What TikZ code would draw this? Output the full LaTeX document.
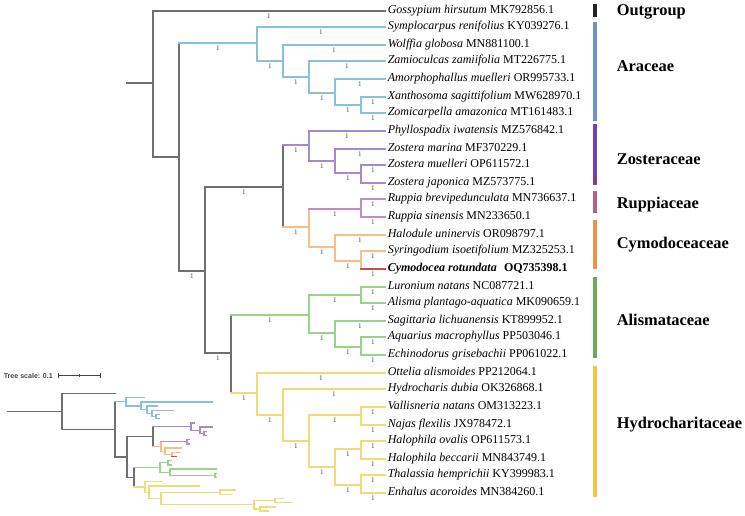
\documentclass[tikz,border=0pt]{standalone}
\usepackage{fontspec}
\setmainfont{Liberation Serif}
\newfontfamily\scalefnt{Liberation Sans}
\usetikzlibrary{calc}
\definecolor{gbk}{HTML}{707070}
\definecolor{cara}{HTML}{8CBFD9}
\definecolor{czos}{HTML}{A68BC8}
\definecolor{crup}{HTML}{C48BBE}
\definecolor{ccym}{HTML}{F2C088}
\definecolor{cred}{HTML}{C9504A}
\definecolor{cali}{HTML}{9CD08D}
\definecolor{chyd}{HTML}{F1DB78}
\definecolor{bout}{HTML}{222222}
\definecolor{bara}{HTML}{7094C6}
\definecolor{bzos}{HTML}{7B40A6}
\definecolor{brup}{HTML}{B3628E}
\definecolor{bcym}{HTML}{E8934F}
\definecolor{bali}{HTML}{6DAA55}
\definecolor{bhyd}{HTML}{F1C744}
\definecolor{suppc}{HTML}{444444}
\newcommand{\tbrl}[3]{\draw[#3] (#1 |- #2) -- node[supp]{1} (#2);}
\newcommand{\tbrn}[3]{\draw[#3] (#1 |- #2) -- (#2);}
\newcommand{\tvert}[4]{\draw[#4] (#1 |- #2) -- (#1 |- #3);}
\begin{document}
\begin{tikzpicture}[x=0.75pt,y=-0.75pt,line cap=rect,
  every path/.style={line width=1.2pt},
  supp/.style={midway,font=\fontsize{5.3}{6}\selectfont,text=suppc,inner sep=0pt,yshift=-3.8pt},
  leaf/.style={anchor=west,inner sep=1.5pt,font=\fontsize{9}{10}\selectfont,text height=6.2pt,text depth=2pt},
  fam/.style={anchor=west,inner sep=0pt,font=\bfseries\fontsize{12.3}{14}\selectfont,text height=8.1pt,text depth=0pt}]
\useasboundingbox (0,0) rectangle (745,516);
% ---------------- main tree nodes
\coordinate (rs) at (127,83);
\coordinate (root) at (153,83);
\coordinate (N1) at (179,157);
\coordinate (A) at (257,43);
\coordinate (B) at (283,61);
\coordinate (C) at (309,77);
\coordinate (D) at (335,93);
\coordinate (E) at (361,105);
\coordinate (N2) at (205,271);
\coordinate (N3) at (283,187);
\coordinate (Z) at (309,145);
\coordinate (Z2) at (335,161);
\coordinate (Z3) at (361,173);
\coordinate (R) at (309,227);
\coordinate (Rp) at (361,209);
\coordinate (Cy) at (335,247);
\coordinate (Cy2) at (361,261);
\coordinate (N4) at (231,353);
\coordinate (Al) at (309,315);
\coordinate (Al1) at (361,295);
\coordinate (Al2) at (335,333);
\coordinate (Al3) at (361,347);
\coordinate (H) at (257,393);
\coordinate (H2) at (283,415);
\coordinate (H3) at (309,441);
\coordinate (H4) at (361,415);
\coordinate (H5) at (335,467);
\coordinate (H6) at (361,449);
\coordinate (H7) at (361,485);
% ---------------- leaves
\foreach \i/\txt in {
 0/{\textit{Gossypium hirsutum} MK792856.1},
 1/{\textit{Symplocarpus renifolius} KY039276.1},
 2/{\textit{Wolffia globosa} MN881100.1},
 3/{\textit{Zamioculcas zamiifolia} MT226775.1},
 4/{\textit{Amorphophallus muelleri} OR995733.1},
 5/{\textit{Xanthosoma sagittifolium} MW628970.1},
 6/{\textit{Zomicarpella amazonica} MT161483.1},
 7/{\textit{Phyllospadix iwatensis} MZ576842.1},
 8/{\textit{Zostera marina} MF370229.1},
 9/{\textit{Zostera muelleri} OP611572.1},
 10/{\textit{Zostera japonica} MZ573775.1},
 11/{\textit{Ruppia brevipedunculata} MN736637.1},
 12/{\textit{Ruppia sinensis} MN233650.1},
 13/{\textit{Halodule uninervis} OR098797.1},
 14/{\textit{Syringodium isoetifolium} MZ325253.1},
 15/{\textbf{\textit{Cymodocea rotundata}}\hspace{0.6em}\textbf{OQ735398.1}},
 16/{\textit{Luronium natans} NC087721.1},
 17/{\textit{Alisma plantago-aquatica} MK090659.1},
 18/{\textit{Sagittaria lichuanensis} KT899952.1},
 19/{\textit{Aquarius macrophyllus} PP503046.1},
 20/{\textit{Echinodorus grisebachii} PP061022.1},
 21/{\textit{Ottelia alismoides} PP212064.1},
 22/{\textit{Hydrocharis dubia} OK326868.1},
 23/{\textit{Vallisneria natans} OM313223.1},
 24/{\textit{Najas flexilis} JX978472.1},
 25/{\textit{Halophila ovalis} OP611573.1},
 26/{\textit{Halophila beccarii} MN843749.1},
 27/{\textit{Thalassia hemprichii} KY399983.1},
 28/{\textit{Enhalus acoroides} MN384260.1}} {
  \pgfmathsetmacro\yy{2*floor((10+17.25*\i)/2)+1}
  \coordinate (t\i) at (385,\yy);
  \node[leaf] (l\i) at (t\i) {\txt};
}
% ---------------- main tree branches
\tbrn{rs}{root}{gbk}
\tvert{root}{t0}{N1}{gbk}
\tbrl{root}{t0}{gbk}
\tbrn{root}{N1}{gbk}
\tvert{N1}{A}{N2}{gbk}
\tbrl{N1}{A}{cara}
\tbrl{N1}{N2}{gbk}
\tvert{A}{t1}{B}{cara} \tbrl{A}{t1}{cara} \tbrl{A}{B}{cara}
\tvert{B}{t2}{C}{cara} \tbrl{B}{t2}{cara} \tbrl{B}{C}{cara}
\tvert{C}{t3}{D}{cara} \tbrl{C}{t3}{cara} \tbrl{C}{D}{cara}
\tvert{D}{t4}{E}{cara} \tbrl{D}{t4}{cara} \tbrl{D}{E}{cara}
\tvert{E}{t5}{t6}{cara} \tbrl{E}{t5}{cara} \tbrl{E}{t6}{cara}
\tvert{N2}{N3}{N4}{gbk} \tbrl{N2}{N3}{gbk} \tbrl{N2}{N4}{gbk}
\tvert{N3}{Z}{R}{gbk} \tbrl{N3}{Z}{czos} \tbrl{N3}{R}{ccym}
\tvert{Z}{t7}{Z2}{czos} \tbrl{Z}{t7}{czos} \tbrl{Z}{Z2}{czos}
\tvert{Z2}{t8}{Z3}{czos} \tbrl{Z2}{t8}{czos} \tbrl{Z2}{Z3}{czos}
\tvert{Z3}{t9}{t10}{czos} \tbrl{Z3}{t9}{czos} \tbrl{Z3}{t10}{czos}
\tvert{R}{Rp}{Cy}{ccym} \tbrl{R}{Rp}{crup} \tbrl{R}{Cy}{ccym}
\tvert{Rp}{t11}{t12}{crup} \tbrl{Rp}{t11}{crup} \tbrl{Rp}{t12}{crup}
\tvert{Cy}{t13}{Cy2}{ccym} \tbrl{Cy}{t13}{ccym} \tbrl{Cy}{Cy2}{ccym}
\tvert{Cy2}{t14}{t15}{ccym} \tbrl{Cy2}{t14}{ccym} \tbrl{Cy2}{t15}{cred}
\tvert{N4}{Al}{H}{gbk} \tbrl{N4}{Al}{cali} \tbrl{N4}{H}{chyd}
\tvert{Al}{Al1}{Al2}{cali} \tbrl{Al}{Al1}{cali} \tbrl{Al}{Al2}{cali}
\tvert{Al1}{t16}{t17}{cali} \tbrl{Al1}{t16}{cali} \tbrl{Al1}{t17}{cali}
\tvert{Al2}{t18}{Al3}{cali} \tbrl{Al2}{t18}{cali} \tbrl{Al2}{Al3}{cali}
\tvert{Al3}{t19}{t20}{cali} \tbrl{Al3}{t19}{cali} \tbrl{Al3}{t20}{cali}
\tvert{H}{t21}{H2}{chyd} \tbrl{H}{t21}{chyd} \tbrl{H}{H2}{chyd}
\tvert{H2}{t22}{H3}{chyd} \tbrl{H2}{t22}{chyd} \tbrl{H2}{H3}{chyd}
\tvert{H3}{H4}{H5}{chyd} \tbrl{H3}{H4}{chyd} \tbrl{H3}{H5}{chyd}
\tvert{H4}{t23}{t24}{chyd} \tbrl{H4}{t23}{chyd} \tbrl{H4}{t24}{chyd}
\tvert{H5}{H6}{H7}{chyd} \tbrl{H5}{H6}{chyd} \tbrl{H5}{H7}{chyd}
\tvert{H6}{t25}{t26}{chyd} \tbrl{H6}{t25}{chyd} \tbrl{H6}{t26}{chyd}
\tvert{H7}{t27}{t28}{chyd} \tbrl{H7}{t27}{chyd} \tbrl{H7}{t28}{chyd}
% ---------------- clade bars and names
\fill[bout] (593,4) rectangle (597,17);
\fill[bara] (593,22) rectangle (597,121);
\fill[bzos] (593,124) rectangle (597,185);
\fill[brup] (593,191) rectangle (597,213);
\fill[bcym] (593,220) rectangle (597,269);
\fill[bali] (593,277) rectangle (597,358);
\fill[bhyd] (593,366) rectangle (597,497);
\node[fam] (fout) at (616,10) {Outgroup};
\node[fam] (fara) at (616,66) {Araceae};
\node[fam] (fzos) at (616,159.5) {Zosteraceae};
\node[fam] (frup) at (616,203) {Ruppiaceae};
\node[fam] (fcym) at (616,243.5) {Cymodoceaceae};
\node[fam] (fali) at (616,320) {Alismataceae};
\node[fam] (fhyd) at (616,423) {Hydrocharitaceae};
% ---------------- tree scale
\node[anchor=west,inner sep=0pt,text=suppc,font=\scalefnt\bfseries\fontsize{5.3}{6}\selectfont] (tsc) at (3,375.5) {Tree scale: 0.1};
\coordinate (sb1) at (58.5,375.5);
\coordinate (sb2) at (100.5,375.5);
\coordinate (sbm) at (79.5,375.5);
\draw[suppc,line width=0.75pt] (sb1) -- (sb2);
\draw[suppc,line width=0.75pt] ($(sb1)+(0,-2)$) -- ($(sb1)+(0,2)$);
\draw[suppc,line width=0.75pt] ($(sb2)+(0,-2)$) -- ($(sb2)+(0,2)$);
\draw[suppc,line width=0.75pt] ($(sbm)+(0,-1)$) -- ($(sbm)+(0,1)$);
% ---------------- small tree with branch lengths
\begin{scope}[shift={(0,391.07)},yscale=0.2435,every path/.style={line width=1pt}]
\coordinate (srs) at (8,83.58);
\coordinate (sroot) at (62,83.58);
\coordinate (sN1) at (115,157.16);
\coordinate (sA) at (126,43.96);
\coordinate (sB) at (141,60.67);
\coordinate (sC) at (147,76.84);
\coordinate (sD) at (152,91.94);
\coordinate (sE) at (156,104.875);
\coordinate (sN2) at (127,270.36);
\coordinate (sN3) at (153,186.81);
\coordinate (sZ) at (191,145.84);
\coordinate (sZ2) at (200,160.94);
\coordinate (sZ3) at (204,173.875);
\coordinate (sR) at (161,227.78);
\coordinate (sRp) at (187,208.375);
\coordinate (sCy) at (165,247.19);
\coordinate (sCy2) at (172,260.125);
\coordinate (sN4) at (134,353.9);
\coordinate (sAl) at (160,314.03);
\coordinate (sAl1) at (168,294.625);
\coordinate (sAl2) at (170,333.44);
\coordinate (sAl3) at (215,346.375);
\coordinate (sH) at (145,393.8);
\coordinate (sH2) at (149,415.375);
\coordinate (sH3) at (161,441.25);
\coordinate (sH4) at (220,415.375);
\coordinate (sH5) at (254,467.125);
\coordinate (sH6) at (275,449.875);
\coordinate (sH7) at (260,484.375);
\foreach \i/\xx in {0/115,1/144,2/212,3/157,4/173,5/159,6/159,7/194,8/212,9/206.5,10/206.5,
  11/189,12/189,13/181,14/180,15/176,16/171,17/171,18/216,19/216.5,20/216.5,
  21/161,22/199,23/235,24/232,25/283,26/292,27/275,28/268} {
  \pgfmathsetmacro\yy{10+17.25*\i}
  \coordinate (s\i) at (\xx,\yy);
}
\tbrn{srs}{sroot}{gbk}
\tvert{sroot}{s0}{sN1}{gbk} \tbrn{sroot}{s0}{gbk} \tbrn{sroot}{sN1}{gbk}
\tvert{sN1}{sA}{sN2}{gbk} \tbrn{sN1}{sA}{cara} \tbrn{sN1}{sN2}{gbk}
\tvert{sA}{s1}{sB}{cara} \tbrn{sA}{s1}{cara} \tbrn{sA}{sB}{cara}
\tvert{sB}{s2}{sC}{cara} \tbrn{sB}{s2}{cara} \tbrn{sB}{sC}{cara}
\tvert{sC}{s3}{sD}{cara} \tbrn{sC}{s3}{cara} \tbrn{sC}{sD}{cara}
\tvert{sD}{s4}{sE}{cara} \tbrn{sD}{s4}{cara} \tbrn{sD}{sE}{cara}
\tvert{sE}{s5}{s6}{cara} \tbrn{sE}{s5}{cara} \tbrn{sE}{s6}{cara}
\tvert{sN2}{sN3}{sN4}{gbk} \tbrn{sN2}{sN3}{gbk} \tbrn{sN2}{sN4}{gbk}
\tvert{sN3}{sZ}{sR}{gbk} \tbrn{sN3}{sZ}{czos} \tbrn{sN3}{sR}{ccym}
\tvert{sZ}{s7}{sZ2}{czos} \tbrn{sZ}{s7}{czos} \tbrn{sZ}{sZ2}{czos}
\tvert{sZ2}{s8}{sZ3}{czos} \tbrn{sZ2}{s8}{czos} \tbrn{sZ2}{sZ3}{czos}
\tvert{sZ3}{s9}{s10}{czos} \tbrn{sZ3}{s9}{czos} \tbrn{sZ3}{s10}{czos}
\tvert{sR}{sRp}{sCy}{ccym} \tbrn{sR}{sRp}{crup} \tbrn{sR}{sCy}{ccym}
\tvert{sRp}{s11}{s12}{crup} \tbrn{sRp}{s11}{crup} \tbrn{sRp}{s12}{crup}
\tvert{sCy}{s13}{sCy2}{ccym} \tbrn{sCy}{s13}{ccym} \tbrn{sCy}{sCy2}{ccym}
\tvert{sCy2}{s14}{s15}{ccym} \tbrn{sCy2}{s14}{ccym} \tbrn{sCy2}{s15}{cred}
\tvert{sN4}{sAl}{sH}{gbk} \tbrn{sN4}{sAl}{cali} \tbrn{sN4}{sH}{chyd}
\tvert{sAl}{sAl1}{sAl2}{cali} \tbrn{sAl}{sAl1}{cali} \tbrn{sAl}{sAl2}{cali}
\tvert{sAl1}{s16}{s17}{cali} \tbrn{sAl1}{s16}{cali} \tbrn{sAl1}{s17}{cali}
\tvert{sAl2}{s18}{sAl3}{cali} \tbrn{sAl2}{s18}{cali} \tbrn{sAl2}{sAl3}{cali}
\tvert{sAl3}{s19}{s20}{cali} \tbrn{sAl3}{s19}{cali} \tbrn{sAl3}{s20}{cali}
\tvert{sH}{s21}{sH2}{chyd} \tbrn{sH}{s21}{chyd} \tbrn{sH}{sH2}{chyd}
\tvert{sH2}{s22}{sH3}{chyd} \tbrn{sH2}{s22}{chyd} \tbrn{sH2}{sH3}{chyd}
\tvert{sH3}{sH4}{sH5}{chyd} \tbrn{sH3}{sH4}{chyd} \tbrn{sH3}{sH5}{chyd}
\tvert{sH4}{s23}{s24}{chyd} \tbrn{sH4}{s23}{chyd} \tbrn{sH4}{s24}{chyd}
\tvert{sH5}{sH6}{sH7}{chyd} \tbrn{sH5}{sH6}{chyd} \tbrn{sH5}{sH7}{chyd}
\tvert{sH6}{s25}{s26}{chyd} \tbrn{sH6}{s25}{chyd} \tbrn{sH6}{s26}{chyd}
\tvert{sH7}{s27}{s28}{chyd} \tbrn{sH7}{s27}{chyd} \tbrn{sH7}{s28}{chyd}
\end{scope}
\end{tikzpicture}
\end{document}
